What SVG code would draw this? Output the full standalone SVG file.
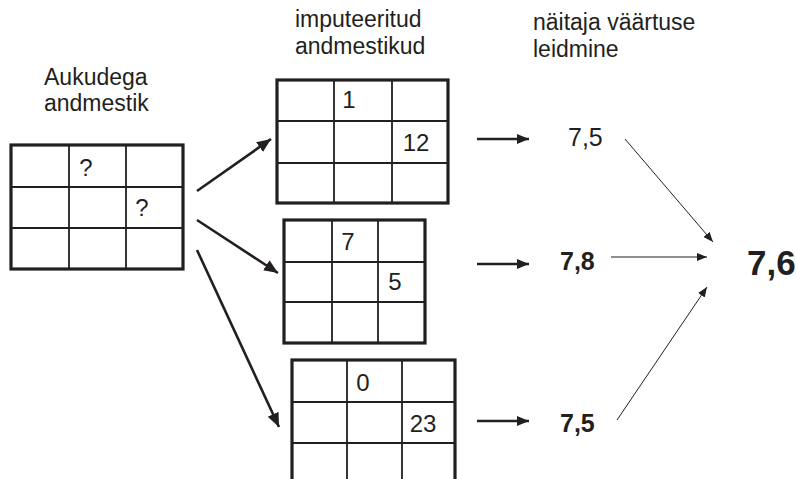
<svg xmlns="http://www.w3.org/2000/svg" width="796" height="479" viewBox="0 0 796 479">
<defs>
<style>
.outer{fill:#fff;stroke:#231f20;stroke-width:3.2}
.inner{stroke:#231f20;stroke-width:1.8;fill:none}
.lbl{font-family:"Liberation Sans",Arial,sans-serif;font-size:23px;fill:#231f20}
.cell{font-family:"Liberation Sans",Arial,sans-serif;font-size:24px;fill:#231f20;text-anchor:middle}
.val{font-family:"Liberation Sans",Arial,sans-serif;font-size:25px;fill:#231f20}
.b{font-weight:bold}
.thick{stroke:#231f20;stroke-width:2.6;fill:none}
.thin{stroke:#231f20;stroke-width:1;fill:none}
</style>
<marker id="ah" markerUnits="userSpaceOnUse" markerWidth="16" markerHeight="14" refX="14" refY="6" orient="auto">
<path d="M0,0 L14,6 L0,12 Z" fill="#231f20"/>
</marker>
<marker id="ahs" markerUnits="userSpaceOnUse" markerWidth="14" markerHeight="12" refX="12" refY="5" orient="auto">
<path d="M0,0 L12,5 L0,10 Z" fill="#231f20"/>
</marker>
<marker id="aht" markerUnits="userSpaceOnUse" markerWidth="12" markerHeight="10" refX="10" refY="4" orient="auto">
<path d="M0,0 L10,4 L0,8 Z" fill="#231f20"/>
</marker>
</defs>
<rect width="796" height="479" fill="#fff"/>

<g id="title-left"><text class="lbl" x="44" y="85">Aukudega</text><text class="lbl" x="44" y="111">andmestik</text></g>
<g id="title-mid"><text class="lbl" x="295" y="27">imputeeritud</text><text class="lbl" x="295" y="54">andmestikud</text></g>
<g id="title-right"><text class="lbl" x="533" y="30">näitaja väärtuse</text><text class="lbl" x="533" y="57">leidmine</text></g>

<g id="grid-missing">
<rect class="outer" x="11" y="145" width="172" height="124"/>
<path class="inner" d="M69,145V269M126,145V269M11,187H183M11,228H183"/>
<text class="cell" x="86" y="176">?</text>
<text class="cell" x="142" y="216">?</text>
</g>

<g id="grid-1">
<rect class="outer" x="277" y="80" width="171" height="123"/>
<path class="inner" d="M334,80V203M392,80V203M277,121H448M277,163H448"/>
<text class="cell" x="349" y="108">1</text>
<text class="cell" x="416" y="151">12</text>
</g>

<g id="grid-2">
<rect class="outer" x="284" y="220" width="141" height="123"/>
<path class="inner" d="M332,220V343M378,220V343M284,262H425M284,302H425"/>
<text class="cell" x="348" y="250">7</text>
<text class="cell" x="395" y="290">5</text>
</g>

<g id="grid-3">
<rect class="outer" x="292" y="360" width="163" height="135"/>
<path class="inner" d="M347,360V479M402,360V479M292,402H455M292,443H455"/>
<text class="cell" x="363" y="391">0</text>
<text class="cell" x="423" y="432">23</text>
</g>

<g id="value-1"><text class="val" x="568" y="146">7,5</text></g>
<g id="value-2"><text class="val b" x="560" y="270">7,8</text></g>
<g id="value-3"><text class="val b" x="560" y="432">7,5</text></g>
<g id="result"><text class="val b" x="747" y="275" style="font-size:35px">7,6</text></g>

<g id="connectors">
<line class="thick" x1="197" y1="191" x2="271" y2="139" marker-end="url(#ah)"/>
<line class="thick" x1="197" y1="220" x2="278" y2="273" marker-end="url(#ah)"/>
<line class="thick" x1="197" y1="250" x2="279" y2="427" marker-end="url(#ah)"/>
<line class="thick" x1="477" y1="139" x2="529" y2="139" marker-end="url(#ahs)"/>
<line class="thick" x1="477" y1="264" x2="529" y2="264" marker-end="url(#ahs)"/>
<line class="thick" x1="477" y1="421" x2="529" y2="421" marker-end="url(#ahs)"/>
<line class="thin" x1="625" y1="139" x2="713" y2="242" marker-end="url(#aht)"/>
<line class="thin" x1="611" y1="257" x2="707" y2="257" marker-end="url(#aht)"/>
<line class="thin" x1="617" y1="420" x2="707" y2="287" marker-end="url(#aht)"/>
</g>
</svg>
